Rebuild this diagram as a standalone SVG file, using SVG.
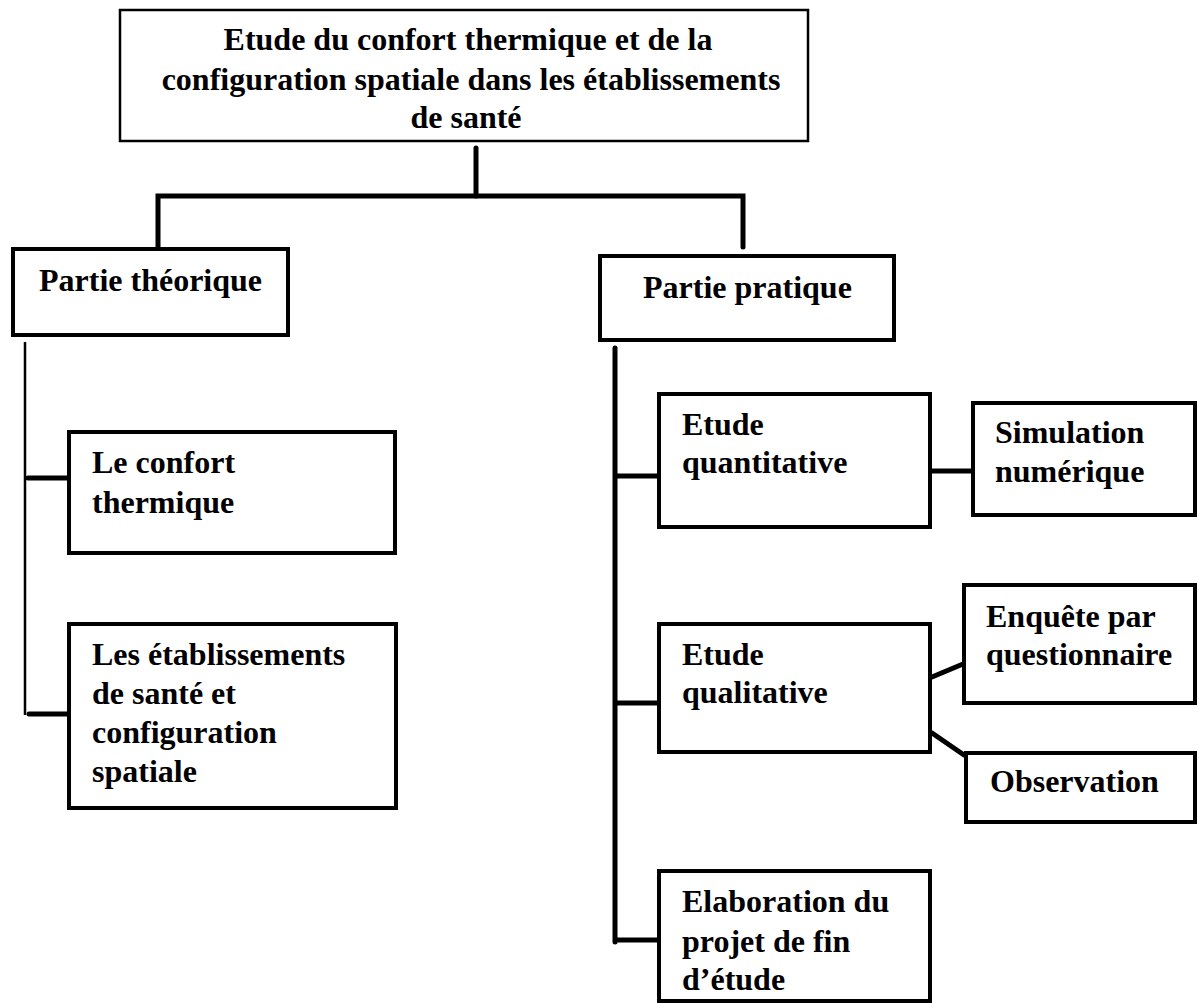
<svg xmlns="http://www.w3.org/2000/svg" width="1198" height="1003" viewBox="0 0 1198 1003">
<style>
.box{fill:#fff;stroke:#000;stroke-width:4}
.top{fill:#fff;stroke:#000;stroke-width:2.5}
.t{font-family:"Liberation Serif","Times New Roman",serif;font-weight:bold;font-size:32px;fill:#000}
.c{fill:none;stroke:#000;stroke-width:5;stroke-linecap:round}
.thin{fill:none;stroke:#000;stroke-width:2.5}
</style>
<rect width="1198" height="1003" fill="#fff"/>
<g id="connectors">
<line class="c" x1="476" y1="148" x2="476" y2="196"/>
<polyline class="c" points="158,248 158,196 743,196 743,247"/>
<line class="thin" x1="25" y1="342" x2="25" y2="715"/>
<line class="c" x1="28" y1="478" x2="68" y2="478"/>
<line class="c" x1="29" y1="714" x2="68" y2="714"/>
<line class="c" x1="615" y1="348" x2="615" y2="942"/>
<line class="c" x1="617" y1="476" x2="658" y2="476"/>
<line class="c" x1="617" y1="703" x2="658" y2="703"/>
<line class="c" x1="617" y1="940" x2="658" y2="940"/>
<line class="c" x1="930" y1="471" x2="972" y2="471"/>
<line class="c" x1="932" y1="677" x2="963" y2="664"/>
<line class="c" x1="932" y1="733" x2="964" y2="755"/>
</g>
<g id="root">
<rect class="top" x="120" y="10" width="688" height="131"/>
<text class="t" x="468" y="50" text-anchor="middle">Etude du confort thermique et de la</text>
<text class="t" x="471" y="90" text-anchor="middle">configuration spatiale dans les établissements</text>
<text class="t" x="466" y="128" text-anchor="middle">de santé</text>
</g>
<g id="partie-theorique">
<rect class="box" x="13" y="249" width="275" height="86"/>
<text class="t" x="39" y="291">Partie théorique</text>
</g>
<g id="confort-thermique">
<rect class="box" x="69" y="432" width="326" height="121"/>
<text class="t" x="92" y="473">Le confort</text>
<text class="t" x="92" y="513">thermique</text>
</g>
<g id="etablissements">
<rect class="box" x="69" y="624" width="327" height="184"/>
<text class="t" x="92" y="665">Les établissements</text>
<text class="t" x="92" y="704">de santé et</text>
<text class="t" x="92" y="743">configuration</text>
<text class="t" x="92" y="782">spatiale</text>
</g>
<g id="partie-pratique">
<rect class="box" x="600" y="256" width="294" height="84"/>
<text class="t" x="643" y="298">Partie pratique</text>
</g>
<g id="etude-quantitative">
<rect class="box" x="659" y="394" width="271" height="133"/>
<text class="t" x="682" y="435">Etude</text>
<text class="t" x="682" y="473">quantitative</text>
</g>
<g id="simulation">
<rect class="box" x="973" y="403" width="222" height="112"/>
<text class="t" x="995" y="443">Simulation</text>
<text class="t" x="995" y="482">numérique</text>
</g>
<g id="etude-qualitative">
<rect class="box" x="659" y="624" width="271" height="128"/>
<text class="t" x="682" y="665">Etude</text>
<text class="t" x="682" y="703">qualitative</text>
</g>
<g id="enquete">
<rect class="box" x="964" y="585" width="231" height="118"/>
<text class="t" x="986" y="627">Enquête par</text>
<text class="t" x="986" y="665">questionnaire</text>
</g>
<g id="observation">
<rect class="box" x="966" y="753" width="229" height="69"/>
<text class="t" x="990" y="792">Observation</text>
</g>
<g id="elaboration">
<rect class="box" x="659" y="871" width="271" height="130"/>
<text class="t" x="682" y="912">Elaboration du</text>
<text class="t" x="682" y="952">projet de fin</text>
<text class="t" x="682" y="990">d’étude</text>
</g>
</svg>
